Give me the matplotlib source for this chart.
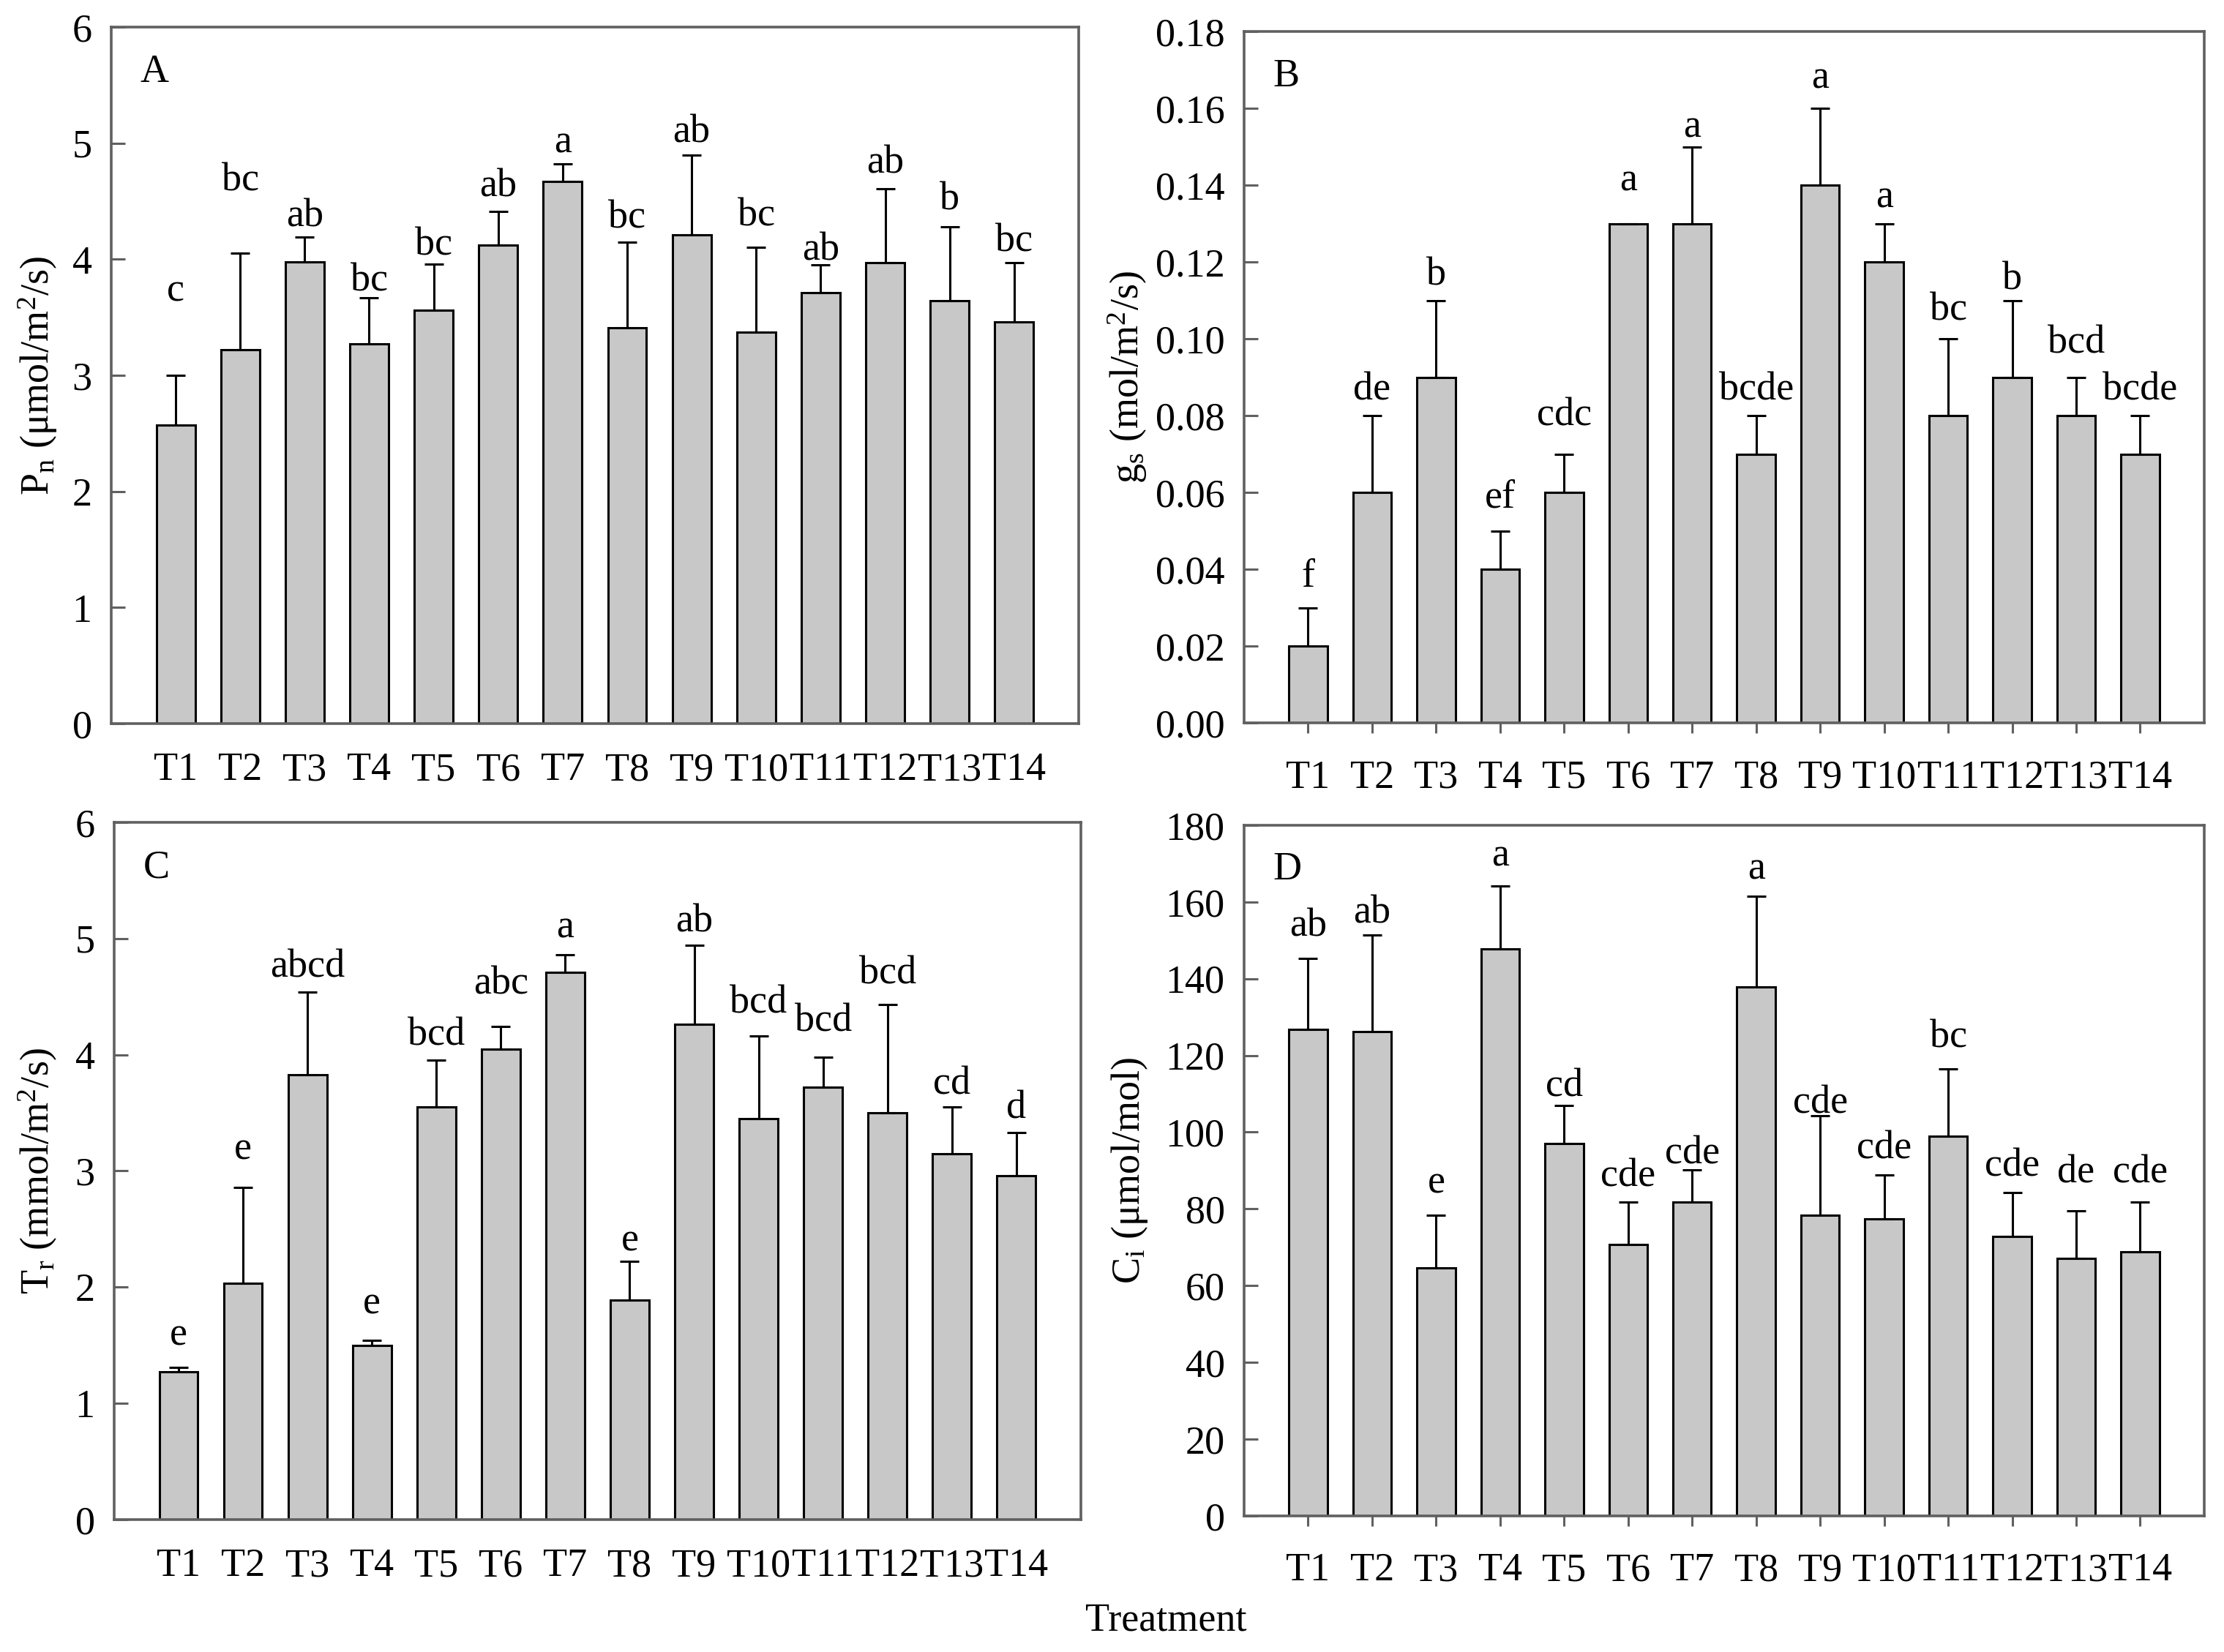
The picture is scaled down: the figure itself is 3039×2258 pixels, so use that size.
import numpy as np
import matplotlib.pyplot as plt

plt.rcParams['font.family'] = ['Liberation Serif', 'DejaVu Serif']
plt.rcParams['mathtext.default'] = 'regular'

treatments = ['T%d' % i for i in range(1, 15)]

# A: net photosynthetic rate
pn_mean = [2.57, 3.22, 3.98, 3.27, 3.56, 4.12, 4.67, 3.41, 4.21, 3.37, 3.71, 3.97, 3.64, 3.46]
pn_err = [0.43, 0.83, 0.21, 0.40, 0.40, 0.29, 0.15, 0.74, 0.69, 0.73, 0.24, 0.64, 0.64, 0.51]
pn_sig = ['c', 'bc', 'ab', 'bc', 'bc', 'ab', 'a', 'bc', 'ab', 'bc', 'ab', 'ab', 'b', 'bc']
pn_sig_y = [3.64, 4.59, 4.28, 3.73, 4.04, 4.54, 4.92, 4.27, 5.01, 4.29, 3.99, 4.74, 4.43, 4.07]

# B: stomatal conductance
gs_mean = [0.02, 0.06, 0.09, 0.04, 0.06, 0.13, 0.13, 0.07, 0.14, 0.12, 0.08, 0.09, 0.08, 0.07]
gs_err = [0.01, 0.02, 0.02, 0.01, 0.01, 0.0, 0.02, 0.01, 0.02, 0.01, 0.02, 0.02, 0.01, 0.01]
gs_sig = ['f', 'de', 'b', 'ef', 'cdc', 'a', 'a', 'bcde', 'a', 'a', 'bc', 'b', 'bcd', 'bcde']
gs_sig_y = [0.0354, 0.0841, 0.1141, 0.0561, 0.0774, 0.1386, 0.1525, 0.0841, 0.1653, 0.1342,
            0.1048, 0.1128, 0.0964, 0.0841]

# C: transpiration rate
tr_mean = [1.27, 2.03, 3.83, 1.50, 3.55, 4.05, 4.71, 1.89, 4.26, 3.45, 3.72, 3.50, 3.15, 2.96]
tr_err = [0.04, 0.83, 0.71, 0.04, 0.40, 0.19, 0.15, 0.33, 0.68, 0.71, 0.26, 0.93, 0.40, 0.37]
tr_sig = ['e', 'e', 'abcd', 'e', 'bcd', 'abc', 'a', 'e', 'ab', 'bcd', 'bcd', 'bcd', 'cd', 'd']
tr_sig_y = [1.50, 3.10, 4.67, 1.77, 4.08, 4.52, 5.01, 2.31, 5.06, 4.36, 4.20, 4.61, 3.66, 3.45]

# D: intercellular CO2
ci_mean = [126.7, 126.2, 64.6, 147.8, 97.0, 70.7, 81.7, 137.9, 78.4, 77.4, 99.0, 72.8, 67.1, 68.8]
ci_err = [18.6, 25.1, 13.8, 16.4, 9.9, 11.0, 8.4, 23.5, 25.8, 11.5, 17.5, 11.5, 12.4, 12.9]
ci_sig = ['ab', 'ab', 'e', 'a', 'cd', 'cde', 'cde', 'a', 'cde', 'cde', 'bc', 'cde', 'de', 'cde']
ci_sig_y = [151.1, 154.6, 84.1, 169.4, 109.4, 85.8, 91.8, 165.9, 104.9, 93.1, 122.1, 88.6, 86.9, 86.9]

panels = [
    ('A', pn_mean, pn_err, pn_sig, pn_sig_y, r'P$_{n}$ (μmol/m$^{2}$/s)',
     (0, 6), np.arange(0, 7, 1), '%d', False, [0.0500, 0.5620, 0.4350, 0.4216], -0.054),
    ('B', gs_mean, gs_err, gs_sig, gs_sig_y, r'g$_{s}$ (mol/m$^{2}$/s)',
     (0, 0.18), np.arange(0, 0.181, 0.02), '%.2f', True, [0.5594, 0.5624, 0.4317, 0.4185], -0.099),
    ('C', tr_mean, tr_err, tr_sig, tr_sig_y, r'T$_{r}$ (mmol/m$^{2}$/s)',
     (0, 6), np.arange(0, 7, 1), '%d', False, [0.0513, 0.0802, 0.4347, 0.4221], -0.057),
    ('D', ci_mean, ci_err, ci_sig, ci_sig_y, r'C$_{i}$ (μmol/mol)',
     (0, 180), np.arange(0, 181, 20), '%d', True, [0.5594, 0.0824, 0.4317, 0.4181], -0.098),
]

fig = plt.figure(figsize=(30.39, 22.58), dpi=100)
x = np.arange(1, 15)
fs = 39
spine_col = '#606060'

for tag, mean, err, sig, sig_y, ylab, ylim, yticks, fmt, xticks_on, rect, ylab_x in panels:
    ax = fig.add_axes(rect)
    ax.bar(x, mean, width=0.6, color='#c8c8c8', edgecolor='black', linewidth=2.2, zorder=2)
    ax.errorbar(x, mean, yerr=[np.zeros(len(err)), err], fmt='none', ecolor='black',
                elinewidth=2.2, capsize=9.5, capthick=2.2, zorder=3)
    for xi, s, sy in zip(x, sig, sig_y):
        ax.text(xi, sy, s, ha='center', va='baseline', fontsize=fs, zorder=4)
    ax.set_xlim(0, 15)
    ax.set_ylim(*ylim)
    ax.set_xticks(x)
    ax.set_xticklabels(treatments, fontsize=fs)
    ax.set_yticks(yticks)
    ax.set_yticklabels([fmt % v for v in yticks], fontsize=fs)
    ax.tick_params(axis='y', direction='in', length=14, width=2.2, color=spine_col, pad=19)
    if xticks_on:
        ax.tick_params(axis='x', direction='out', length=10, width=2.2, color=spine_col, pad=26)
    else:
        ax.tick_params(axis='x', length=0, pad=28)
    for sp in ax.spines.values():
        sp.set_color(spine_col)
        sp.set_linewidth(2.6)
    ax.set_ylabel(ylab, fontsize=fs)
    ax.yaxis.set_label_coords(ylab_x, 0.5)
    ax.text(0.03, 0.921, tag, transform=ax.transAxes, ha='left', va='baseline', fontsize=fs)

fig.text(1593 / 3039, 1 - 2215 / 2258, 'Treatment', ha='center', va='center', fontsize=fs)

fig.savefig('out.png', dpi=100)
